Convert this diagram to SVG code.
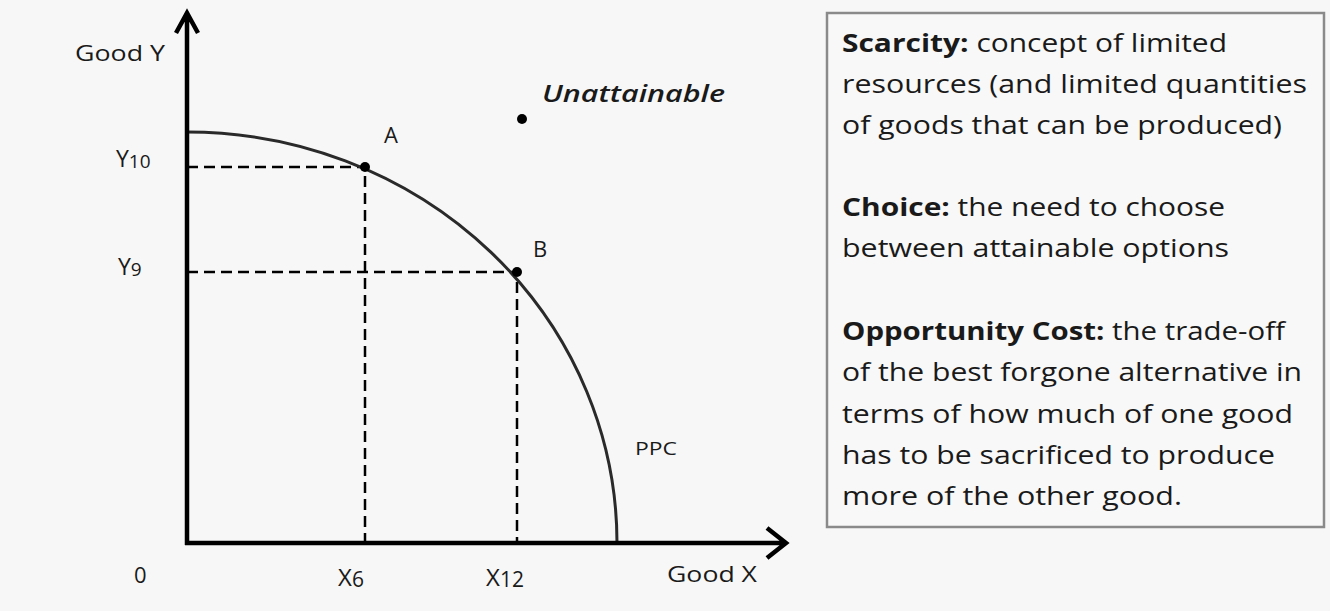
<svg xmlns="http://www.w3.org/2000/svg" width="1330" height="611" viewBox="0 0 1330 611">
<style>
.lbl{font-family:"Open Sans","Liberation Sans",sans-serif;fill:#1a1a1a}
.box{font-family:"Open Sans","Liberation Sans",sans-serif;font-size:25px;fill:#1a1a1a}
.b{font-weight:bold}
.axis{stroke:#000;stroke-width:4.5;fill:none}
.dash{stroke:#000;stroke-width:2.5;stroke-dasharray:11 6;fill:none}
</style>
<rect x="0" y="0" width="1330" height="611" fill="#f7f7f7"/>
<g id="connectors">
<path class="dash" d="M187 167 H365 V543"/>
<path class="dash" d="M187 272 H517 V543"/>
<path id="ppc-curve" d="M187 132 A430 411 0 0 1 617 543" fill="none" stroke="#2a2a2a" stroke-width="3"/>
<path class="axis" d="M187 545 V13 M176 33 L187 13 L198 33"/>
<path class="axis" d="M185 543 H786 M767 528 L786 543 L767 558"/>
</g>
<g id="axis-y-label"><text class="lbl" x="75" y="61" font-size="22" textLength="90" lengthAdjust="spacingAndGlyphs">Good Y</text></g>
<g id="axis-x-label"><text class="lbl" x="667" y="582" font-size="22" textLength="90" lengthAdjust="spacingAndGlyphs">Good X</text></g>
<g id="origin"><text class="lbl" x="134" y="583" font-size="22">0</text></g>
<g id="y10"><text class="lbl" x="116" y="167" font-size="23">Y<tspan font-size="19" dy="1">10</tspan></text></g>
<g id="y9"><text class="lbl" x="118" y="275" font-size="23">Y<tspan font-size="19" dy="1">9</tspan></text></g>
<g id="x6"><text class="lbl" x="338" y="586" font-size="24">X<tspan font-size="21" dy="1">6</tspan></text></g>
<g id="x12"><text class="lbl" x="486" y="586" font-size="24">X<tspan font-size="21" dy="1">12</tspan></text></g>
<g id="point-a"><circle cx="365" cy="167" r="5" fill="#000"/><text class="lbl" x="384" y="143" font-size="22">A</text></g>
<g id="point-b"><circle cx="517" cy="272" r="5" fill="#000"/><text class="lbl" x="533" y="257" font-size="22">B</text></g>
<g id="unattainable"><circle cx="522" cy="119" r="5" fill="#000"/><text class="lbl" x="542" y="102" font-size="23" font-style="italic" font-weight="600" textLength="183" lengthAdjust="spacingAndGlyphs">Unattainable</text></g>
<g id="ppc-label"><text class="lbl" x="635" y="455" font-size="18" textLength="42" lengthAdjust="spacingAndGlyphs">PPC</text></g>
<g id="definitions">
<rect x="827" y="13" width="497" height="514" fill="#f8f8f8" stroke="#8a8a8a" stroke-width="2.5"/>
<text class="box" x="842" y="52" textLength="385" lengthAdjust="spacingAndGlyphs"><tspan class="b">Scarcity:</tspan> concept of limited</text>
<text class="box" x="842" y="93" textLength="465" lengthAdjust="spacingAndGlyphs">resources (and limited quantities</text>
<text class="box" x="842" y="134" textLength="440" lengthAdjust="spacingAndGlyphs">of goods that can be produced)</text>
<text class="box" x="842" y="216" textLength="383" lengthAdjust="spacingAndGlyphs"><tspan class="b">Choice:</tspan> the need to choose</text>
<text class="box" x="842" y="257" textLength="387" lengthAdjust="spacingAndGlyphs">between attainable options</text>
<text class="box" x="842" y="340" textLength="443" lengthAdjust="spacingAndGlyphs"><tspan class="b">Opportunity Cost:</tspan> the trade-off</text>
<text class="box" x="842" y="381" textLength="460" lengthAdjust="spacingAndGlyphs">of the best forgone alternative in</text>
<text class="box" x="842" y="423" textLength="451" lengthAdjust="spacingAndGlyphs">terms of how much of one good</text>
<text class="box" x="842" y="464" textLength="433" lengthAdjust="spacingAndGlyphs">has to be sacrificed to produce</text>
<text class="box" x="842" y="505" textLength="340" lengthAdjust="spacingAndGlyphs">more of the other good.</text>
</g>
</svg>
